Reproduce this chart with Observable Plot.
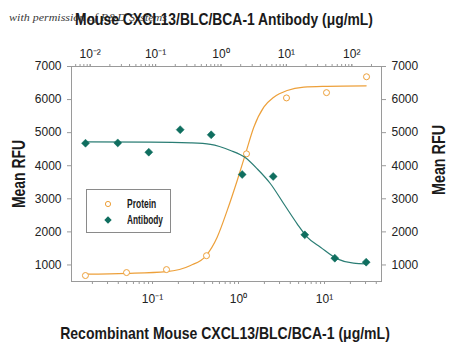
<!DOCTYPE html>
<html><head><meta charset="utf-8">
<script src="https://cdn.jsdelivr.net/npm/d3@7"></script>
<script src="https://cdn.jsdelivr.net/npm/@observablehq/plot@0.6"></script>
<style>
body{margin:0;background:#fff;}
#wrap{position:relative;width:450px;height:347px;overflow:hidden;font-family:"Liberation Sans",Arial,sans-serif;}
#wrap svg{position:absolute;left:0;top:0;}
.t{position:absolute;white-space:nowrap;color:#1a1a1a;}
</style></head><body><div id="wrap"></div>
<script>
// ---- data ----
const proteinConc = [0.0166, 0.0499, 0.1455, 0.4246, 1.239, 3.614, 10.55, 30.8];
const proteinRFU  = [680, 770, 860, 1280, 4360, 6050, 6210, 6690];
const antibodyConc = [0.00848, 0.0264, 0.0787, 0.2377, 0.708, 2.11, 6.28, 19.1, 55, 166];
const antibodyRFU  = [4680, 4690, 4410, 5090, 4935, 3735, 3675, 1910, 1205, 1085];
const proteinFitConc = [0.0166, 0.0499, 0.1455, 0.2767, 0.421, 0.565, 0.739, 0.966, 1.206, 1.506, 1.968, 2.573, 3.68, 5.75, 10.7, 30.5];
const proteinFitRFU  = [720, 745, 800, 985, 1285, 1840, 2650, 3555, 4360, 5165, 5770, 6070, 6275, 6375, 6400, 6415];
const antibodyFitConc = [0.00848, 0.0836, 0.342, 0.691, 1.397, 2.37, 3.58, 5.71, 9.12, 14.6, 20.8, 33.2, 59.8, 106, 166];
const antibodyFitRFU  = [4720, 4715, 4690, 4645, 4460, 4240, 3905, 3455, 2850, 2245, 1840, 1535, 1185, 1055, 1035];
const yTicks = [1000, 2000, 3000, 4000, 5000, 6000, 7000];
const bottomTicks = [0.1, 1, 10];
const topTicks = [0.01, 0.1, 1, 10, 100];
const seriesNames = ["Protein", "Antibody"];
const titleTop = "Mouse CXCL13/BLC/BCA-1 Antibody (\u03bcg/mL)";
const titleBottom = "Recombinant Mouse CXCL13/BLC/BCA-1 (\u03bcg/mL)";
const yTitle = "Mean RFU";
const watermark = "with permission of R&D Systems";

const ORANGE = "#eda03a", TEAL = "#0f6e5f", GRAY = "#9a9a9a";
const FONT = '"Liberation Sans",Arial,sans-serif';
const W = 450, H = 347, mL = 71, mR = 69, mT = 66, mB = 66;
const bottomDomain = [0.01143, 46.0];
const topDomain = [0.00518, 284.6];
const yDomain = [500, 7000];

const SUP = {"-":"\u207b","0":"\u2070","1":"\u00b9","2":"\u00b2","3":"\u00b3"};
const pow10 = d => "10" + String(Math.round(Math.log10(d))).split("").map(c => SUP[c]).join("");

const zip = (xs, ys) => xs.map((x, i) => ({x, y: ys[i]}));
const prot = zip(proteinConc, proteinRFU), protFit = zip(proteinFitConc, proteinFitRFU);
const anti = zip(antibodyConc, antibodyRFU), antiFit = zip(antibodyFitConc, antibodyFitRFU);

const minorBottom = d3.scaleLog().domain(bottomDomain).ticks();
const minorTop = d3.scaleLog().domain(topDomain).ticks();

const common = {width: W, height: H, marginLeft: mL, marginRight: mR, marginTop: mT, marginBottom: mB,
  style: {fontFamily: FONT, fontSize: "12px", color: "#222", background: "transparent"}};

const p1 = Plot.plot({
  ...common,
  x: {type: "log", domain: bottomDomain},
  y: {domain: yDomain},
  marks: [
    Plot.frame({stroke: GRAY}),
    Plot.axisY(yTicks, {anchor: "left", tickSize: 4, tickPadding: 6, tickFormat: d3.format("d"), stroke: GRAY, fill: "#222", label: null, fontSize: 12}),
    Plot.axisY(yTicks, {anchor: "right", tickSize: 4, tickPadding: 6, tickFormat: d3.format("d"), stroke: GRAY, fill: "#222", label: null, fontSize: 12}),
    Plot.axisX(minorBottom, {anchor: "bottom", tickSize: 3, tickFormat: () => "", stroke: GRAY, label: null}),
    Plot.axisX(bottomTicks, {anchor: "bottom", tickSize: 3, tickPadding: 10, tickFormat: pow10, stroke: GRAY, fill: "#222", label: null, fontSize: 12}),
    Plot.line(protFit, {x: "x", y: "y", stroke: ORANGE, strokeWidth: 1.2, curve: "monotone-x"}),
    Plot.dot(prot, {x: "x", y: "y", r: 3, stroke: ORANGE, fill: "white", strokeWidth: 1})
  ]
});

const p2 = Plot.plot({
  ...common,
  x: {type: "log", domain: topDomain},
  y: {domain: yDomain, axis: null},
  marks: [
    Plot.axisX(minorTop, {anchor: "top", tickSize: 3, tickFormat: () => "", stroke: GRAY, label: null}),
    Plot.axisX(topTicks, {anchor: "top", tickSize: 3, tickPadding: 6, tickFormat: pow10, stroke: GRAY, fill: "#222", label: null, fontSize: 12}),
    Plot.line(antiFit, {x: "x", y: "y", stroke: "#2a7d74", strokeWidth: 1.2, curve: "monotone-x"}),
    Plot.dot(anti, {x: "x", y: "y", r: 3.6, symbol: "diamond2", fill: TEAL, stroke: TEAL, strokeWidth: 0.5})
  ]
});

const wrap = document.getElementById("wrap");
wrap.append(p1, p2);

// text placed by its centre, squeezed horizontally to the reference width
function addText(txt, o) {
  const d = document.createElement("div");
  d.className = "t"; d.textContent = txt;
  Object.assign(d.style, {left: o.cx + "px", top: o.cy + "px", fontSize: o.size + "px", lineHeight: o.size + "px",
    fontWeight: o.weight || "normal", fontFamily: o.family || FONT, fontStyle: o.style || "normal", color: o.color || "#1a1a1a"});
  wrap.append(d);
  const k = o.width ? o.width / d.offsetWidth : 1;
  d.style.transform = `translate(-50%,-50%) ${o.rotate ? "rotate(-90deg)" : ""} scaleX(${k})`;
  return d;
}
addText(watermark, {cx: 88, cy: 16.5, size: 11, width: 158, family: '"Liberation Serif","DejaVu Serif",serif', style: "italic", color: "#3a3a3a"});
addText(titleTop, {cx: 224, cy: 19, size: 17, weight: "bold", width: 298});
addText(titleBottom, {cx: 225, cy: 333, size: 17, weight: "bold", width: 330});
addText(yTitle, {cx: 18.5, cy: 173.5, size: 18, weight: "bold", width: 68, rotate: true});
addText(yTitle, {cx: 438.5, cy: 160, size: 18, weight: "bold", width: 70, rotate: true});

// legend
const lg = document.createElement("div");
Object.assign(lg.style, {position: "absolute", left: "85.5px", top: "189px", width: "83px", height: "42px", border: "1px solid #8a8a8a", background: "#fff"});
wrap.append(lg);
const sym = [
  `<svg width="10" height="10" style="position:absolute;left:16px;top:-5px"><circle cx="5" cy="5" r="2.6" fill="white" stroke="${ORANGE}"/></svg>`,
  `<svg width="10" height="10" style="position:absolute;left:16px;top:-5px"><path d="M5,1.3L8.7,5L5,8.7L1.3,5Z" fill="${TEAL}"/></svg>`
];
const legendWidths = [29, 36];
seriesNames.forEach((n, i) => {
  const row = document.createElement("div");
  Object.assign(row.style, {position: "absolute", left: "0px", top: (i === 0 ? 13.5 : 29.5) + "px", height: "0px", width: "80px"});
  row.innerHTML = sym[i] + `<span style="position:absolute;left:40px;top:-7px;line-height:14px;font-size:12px;font-weight:bold;white-space:nowrap;color:#1a1a1a;transform-origin:0 50%;">${n}</span>`;
  lg.append(row);
  const sp = row.querySelector("span");
  sp.style.transform = `scaleX(${legendWidths[i] / sp.offsetWidth})`;
});
</script></body></html>
